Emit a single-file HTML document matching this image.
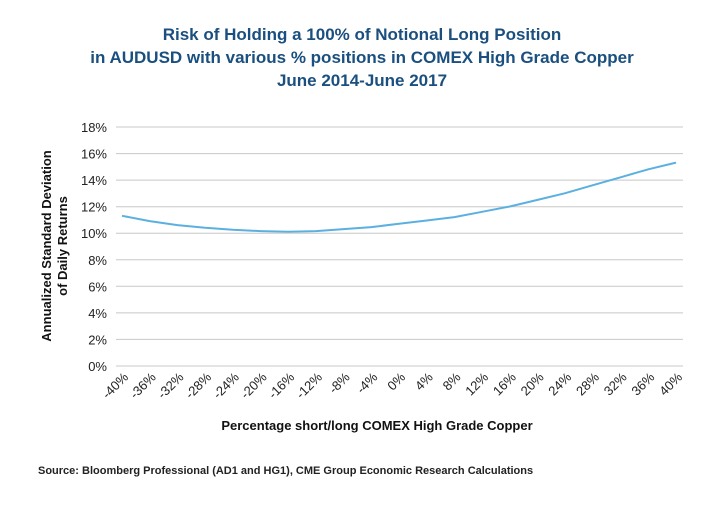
<!DOCTYPE html><html><head><style>body{margin:0;background:#fff}svg{font-family:"Liberation Sans",sans-serif}</style></head><body>
<svg width="720" height="500" xmlns="http://www.w3.org/2000/svg">
<g font-weight="bold" fill="#1a4f7f" font-size="17" text-anchor="middle">
<text x="362" y="40">Risk of Holding a 100% of Notional Long Position</text>
<text x="362" y="63">in AUDUSD with various % positions in COMEX High Grade Copper</text>
<text x="362" y="86">June 2014-June 2017</text></g>
<g stroke="#c8c8c8" stroke-width="1">
<line x1="116" x2="683" y1="127" y2="127"/><line x1="116" x2="683" y1="153.6" y2="153.6"/><line x1="116" x2="683" y1="180.1" y2="180.1"/><line x1="116" x2="683" y1="206.7" y2="206.7"/><line x1="116" x2="683" y1="233.2" y2="233.2"/><line x1="116" x2="683" y1="259.8" y2="259.8"/><line x1="116" x2="683" y1="286.3" y2="286.3"/><line x1="116" x2="683" y1="312.9" y2="312.9"/><line x1="116" x2="683" y1="339.4" y2="339.4"/><line x1="116" x2="683" y1="366" y2="366"/></g>
<g font-size="13" fill="#222" text-anchor="end">
<text x="107" y="132">18%</text><text x="107" y="158.6">16%</text><text x="107" y="185.1">14%</text><text x="107" y="211.7">12%</text><text x="107" y="238.2">10%</text><text x="107" y="264.8">8%</text><text x="107" y="291.3">6%</text><text x="107" y="317.9">4%</text><text x="107" y="344.4">2%</text><text x="107" y="371">0%</text></g>
<polyline fill="none" stroke="#5bb0e0" stroke-width="2" points="122,215.8 149.7,221.1 177.4,225.1 205.1,227.8 232.8,229.8 260.5,231.1 288.2,231.8 315.9,231.1 343.6,229.1 371.3,227.1 399,223.8 426.7,220.5 454.4,217.1 482.1,211.8 509.8,206.5 537.5,199.9 565.2,193.2 592.9,185.2 620.6,177.3 648.3,169.3 676,162.6"/>
<g font-size="13" fill="#222" text-anchor="end">
<text transform="translate(129,378) rotate(-45)">-40%</text><text transform="translate(156.7,378) rotate(-45)">-36%</text><text transform="translate(184.4,378) rotate(-45)">-32%</text><text transform="translate(212.1,378) rotate(-45)">-28%</text><text transform="translate(239.8,378) rotate(-45)">-24%</text><text transform="translate(267.5,378) rotate(-45)">-20%</text><text transform="translate(295.2,378) rotate(-45)">-16%</text><text transform="translate(322.9,378) rotate(-45)">-12%</text><text transform="translate(350.6,378) rotate(-45)">-8%</text><text transform="translate(378.3,378) rotate(-45)">-4%</text><text transform="translate(406,378) rotate(-45)">0%</text><text transform="translate(433.7,378) rotate(-45)">4%</text><text transform="translate(461.4,378) rotate(-45)">8%</text><text transform="translate(489.1,378) rotate(-45)">12%</text><text transform="translate(516.8,378) rotate(-45)">16%</text><text transform="translate(544.5,378) rotate(-45)">20%</text><text transform="translate(572.2,378) rotate(-45)">24%</text><text transform="translate(599.9,378) rotate(-45)">28%</text><text transform="translate(627.6,378) rotate(-45)">32%</text><text transform="translate(655.3,378) rotate(-45)">36%</text><text transform="translate(683,378) rotate(-45)">40%</text></g>
<g font-weight="bold" fill="#111" font-size="13" text-anchor="middle">
<text transform="translate(51,246) rotate(-90)">Annualized Standard Deviation</text>
<text transform="translate(67,246) rotate(-90)">of Daily Returns</text>
<text x="377" y="430">Percentage short/long COMEX High Grade Copper</text></g>
<text x="38" y="474" font-size="11" font-weight="bold" fill="#222">Source: Bloomberg Professional (AD1 and HG1), CME Group Economic Research Calculations</text>
</svg></body></html>
